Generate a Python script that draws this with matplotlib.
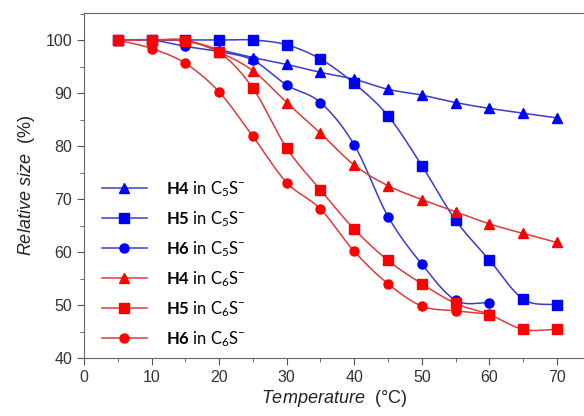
import numpy as np
import matplotlib
matplotlib.use('Agg')
import matplotlib.pyplot as plt
from matplotlib.lines import Line2D
from matplotlib.ticker import MultipleLocator

# === Data ===
temp = [5, 10, 15, 20, 25, 30, 35, 40, 45, 50, 55, 60, 65, 70]

h4_c5 = [100, 100, 99.8, 98.2, 96.7, 95.4, 93.9, 92.6, 90.7, 89.6, 88.2, 87.1, 86.2, 85.3]
h5_c5 = [100, 100, 100, 100, 100, 99.1, 96.4, 91.8, 85.7, 76.3, 66.0, 58.5, 51.1, 50.0]
h6_c5 = [100, 100, 98.8, 97.8, 96.2, 91.5, 88.2, 80.2, 66.7, 57.7, 50.9, 50.4]
h4_c6 = [100, 100, 100, 97.7, 94.2, 88.2, 82.4, 76.4, 72.5, 69.9, 67.6, 65.3, 63.5, 61.8]
h5_c6 = [100, 100, 99.8, 97.7, 90.9, 79.6, 71.7, 64.3, 58.4, 54.0, 50.3, 48.2, 45.4, 45.4]
h6_c6 = [100, 98.4, 95.6, 90.2, 81.8, 73.1, 68.1, 60.1, 54.0, 49.8, 48.9, 48.3]

labels = [r'$\bf{H4}$ in C$_5$S$^{-}$', r'$\bf{H5}$ in C$_5$S$^{-}$', r'$\bf{H6}$ in C$_5$S$^{-}$',
          r'$\bf{H4}$ in C$_6$S$^{-}$', r'$\bf{H5}$ in C$_6$S$^{-}$', r'$\bf{H6}$ in C$_6$S$^{-}$']


# smooth line through the points (Catmull-Rom)
def smooth(x, y, n=20):
    x = np.asarray(x, float)
    y = np.asarray(y, float)
    px = np.concatenate([[2 * x[0] - x[1]], x, [2 * x[-1] - x[-2]]])
    py = np.concatenate([[2 * y[0] - y[1]], y, [2 * y[-1] - y[-2]]])
    xs, ys = [], []
    t = np.linspace(0, 1, n, endpoint=False)
    for i in range(1, len(px) - 2):
        for p, out in ((px, xs), (py, ys)):
            p0, p1, p2, p3 = p[i - 1], p[i], p[i + 1], p[i + 2]
            out.extend(0.5 * (2 * p1 + (-p0 + p2) * t + (2 * p0 - 5 * p1 + 4 * p2 - p3) * t ** 2
                              + (-p0 + 3 * p1 - 3 * p2 + p3) * t ** 3))
    xs.append(x[-1])
    ys.append(y[-1])
    return np.array(xs), np.array(ys)


# === Style ===
plt.rcParams['font.family'] = ['Liberation Sans', 'DejaVu Sans']
plt.rcParams['mathtext.fontset'] = 'custom'
plt.rcParams['mathtext.rm'] = 'Lato'
plt.rcParams['mathtext.bf'] = 'Lato:bold'
plt.rcParams['mathtext.it'] = 'Liberation Sans:italic'

blue_m, blue_l = '#0000ff', '#3a3ad0'
red_m, red_l = '#ff0000', '#e03a3a'

series = [
    (h4_c5, '^', blue_m, blue_l),
    (h5_c5, 's', blue_m, blue_l),
    (h6_c5, 'o', blue_m, blue_l),
    (h4_c6, '^', red_m, red_l),
    (h5_c6, 's', red_m, red_l),
    (h6_c6, 'o', red_m, red_l),
]

fig = plt.figure(figsize=(5.84, 4.16), dpi=100)
ax = fig.add_axes([84 / 584, 58 / 416, 500 / 584, 345 / 416])

handles = []
for vals, mk, mc, lc in series:
    xs, ys = smooth(temp[:len(vals)], vals)
    ax.plot(xs, ys, color=lc, lw=1.1, zorder=2)
    ax.plot(temp[:len(vals)], vals, ls='none', marker=mk, ms=6.5, color=mc, zorder=3)
    handles.append(Line2D([], [], color=lc, lw=1.1, marker=mk, ms=6.5, mfc=mc, mec=mc))

ax.set_xlim(0, 74)
ax.set_ylim(40, 105.1)
ax.xaxis.set_major_locator(MultipleLocator(10))
ax.xaxis.set_minor_locator(MultipleLocator(5))
ax.yaxis.set_major_locator(MultipleLocator(10))
ax.yaxis.set_minor_locator(MultipleLocator(5))
ax.tick_params(which='both', direction='out', color='#555555', labelcolor='#333333', labelsize=11.5)
ax.tick_params(which='major', length=5)
ax.tick_params(which='minor', length=3)
for s in ax.spines.values():
    s.set_color('#666666')
ax.spines['right'].set_visible(False)

ax.set_xlabel(r'$\it{Temperature}$  (°C)', fontsize=13, color='#222222', labelpad=2)
ax.set_ylabel(r'$\it{Relative\ size}$  (%)', fontsize=13, color='#222222', labelpad=6)

leg = ax.legend(handles, labels, loc='lower left', bbox_to_anchor=(0.005, -0.017), frameon=False,
                prop={'family': 'Lato', 'size': 12}, handlelength=2.7, handletextpad=1.2,
                labelspacing=0.62)

fig.savefig('out.png', dpi=100)
